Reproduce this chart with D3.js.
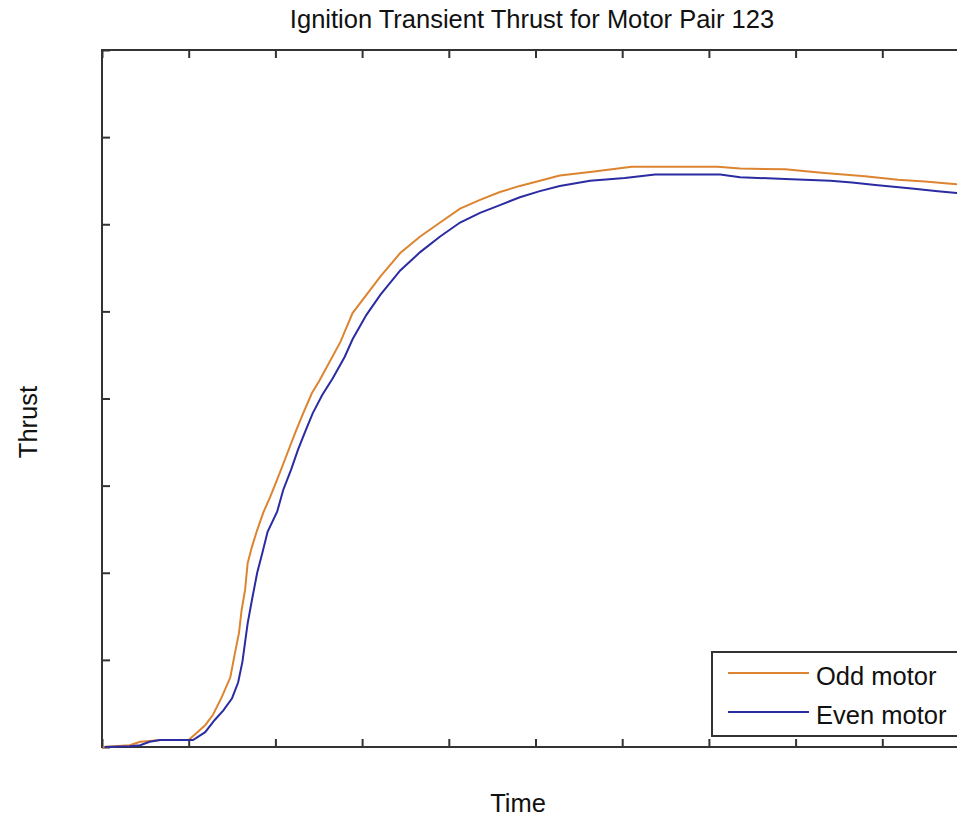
<!DOCTYPE html>
<html>
<head>
<meta charset="utf-8">
<script src="https://cdn.jsdelivr.net/npm/d3@7/dist/d3.min.js"></script>
<style>
  html, body { margin: 0; padding: 0; background: #fff; }
  svg { display: block; }
  text { font-family: "Liberation Sans", Arial, sans-serif; fill: #111; }
</style>
</head>
<body>
<svg id="chart" width="957" height="817"></svg>
<script>
// Time axis ticks (unlabelled) and thrust axis ticks (unlabelled)
const timeTicks = [0, 1, 2, 3, 4, 5, 6, 7, 8, 9, 10];
const thrustTicks = [0, 1, 2, 3, 4, 5, 6, 7, 8];

// Odd motor thrust trace
const oddTime = [0.01, 0.32, 0.44, 0.55, 0.67, 1.00, 1.19, 1.28, 1.38, 1.48, 1.53, 1.58, 1.61, 1.65, 1.68, 1.73, 1.79, 1.86, 1.94, 2.02, 2.11, 2.23, 2.32, 2.42, 2.51, 2.75, 2.89, 3.21, 3.44, 3.67, 3.90, 4.13, 4.36, 4.59, 4.82, 5.05, 5.28, 5.63, 6.11, 7.10, 7.36, 7.88, 8.30, 8.55, 8.80, 9.18, 9.49, 9.86, 10.0];
const oddThrust = [0.00, 0.02, 0.06, 0.07, 0.08, 0.08, 0.25, 0.37, 0.57, 0.80, 1.06, 1.31, 1.57, 1.80, 2.11, 2.30, 2.49, 2.69, 2.87, 3.07, 3.30, 3.61, 3.83, 4.06, 4.21, 4.65, 4.98, 5.40, 5.67, 5.86, 6.02, 6.18, 6.28, 6.37, 6.44, 6.50, 6.56, 6.60, 6.66, 6.66, 6.64, 6.63, 6.59, 6.57, 6.55, 6.51, 6.49, 6.46, 6.45];

// Even motor thrust trace
const evenTime = [0.03, 0.32, 0.44, 0.55, 0.67, 1.00, 1.05, 1.19, 1.30, 1.40, 1.50, 1.57, 1.62, 1.65, 1.68, 1.73, 1.79, 1.85, 1.91, 2.02, 2.09, 2.18, 2.26, 2.34, 2.43, 2.54, 2.66, 2.80, 2.89, 3.05, 3.21, 3.44, 3.67, 3.90, 4.13, 4.36, 4.59, 4.82, 5.05, 5.28, 5.63, 6.03, 6.38, 7.13, 7.36, 7.88, 8.40, 8.65, 8.92, 9.34, 9.64, 9.86, 10.0];
const evenThrust = [0.00, 0.01, 0.02, 0.06, 0.08, 0.08, 0.08, 0.17, 0.31, 0.42, 0.56, 0.74, 0.98, 1.20, 1.42, 1.69, 2.00, 2.23, 2.47, 2.70, 2.95, 3.18, 3.41, 3.61, 3.83, 4.04, 4.23, 4.48, 4.68, 4.96, 5.19, 5.47, 5.68, 5.86, 6.02, 6.13, 6.22, 6.31, 6.38, 6.44, 6.50, 6.53, 6.57, 6.57, 6.54, 6.52, 6.50, 6.48, 6.45, 6.41, 6.38, 6.36, 6.35];

const seriesNames = ["Odd motor", "Even motor"];
const seriesColors = ["#DC8430", "#2B2BA3"];

const svg = d3.select("#chart");
const plotLeft = 102, plotTop = 50, plotRight = 969, plotBottom = 747;

const x = d3.scaleLinear().domain([0, 10]).range([plotLeft, plotRight]);
const y = d3.scaleLinear().domain([0, 8]).range([plotBottom, plotTop]);

const axisColor = "#333";
const tickLen = 8;
const fontSize = 25.5;

// Axes with inward ticks, no labels
function styleAxis(g) {
  g.select(".domain").remove();
  g.selectAll(".tick line").attr("stroke", axisColor).attr("stroke-width", 2);
  g.selectAll(".tick text").remove();
}
svg.append("g").attr("transform", `translate(0,${plotBottom})`)
  .call(d3.axisBottom(x).tickValues(timeTicks).tickSize(-tickLen)).call(styleAxis);
svg.append("g").attr("transform", `translate(0,${plotTop})`)
  .call(d3.axisTop(x).tickValues(timeTicks).tickSize(-tickLen)).call(styleAxis);
svg.append("g").attr("transform", `translate(${plotLeft},0)`)
  .call(d3.axisLeft(y).tickValues(thrustTicks).tickSize(-tickLen)).call(styleAxis);

// Plot frame
svg.append("rect")
  .attr("x", plotLeft).attr("y", plotTop)
  .attr("width", plotRight - plotLeft).attr("height", plotBottom - plotTop)
  .attr("fill", "none").attr("stroke", axisColor).attr("stroke-width", 2);

// Traces
const line = d3.line().x(d => x(d[0])).y(d => y(d[1]));
const traces = [
  d3.zip(oddTime, oddThrust),
  d3.zip(evenTime, evenThrust)
];
traces.forEach((pts, i) => {
  svg.append("path")
    .datum(pts)
    .attr("d", line)
    .attr("fill", "none")
    .attr("stroke", seriesColors[i])
    .attr("stroke-width", 2);
});

// Titles
svg.append("text").attr("x", 532).attr("y", 28)
  .attr("text-anchor", "middle").attr("font-size", fontSize)
  .text("Ignition Transient Thrust for Motor Pair 123");
svg.append("text").attr("x", 518).attr("y", 812)
  .attr("text-anchor", "middle").attr("font-size", fontSize)
  .text("Time");
svg.append("text")
  .attr("transform", "translate(37,422) rotate(-90)")
  .attr("text-anchor", "middle").attr("font-size", fontSize)
  .text("Thrust");

// Legend
const legend = svg.append("g");
legend.append("rect")
  .attr("x", 712).attr("y", 652).attr("width", 260).attr("height", 84)
  .attr("fill", "#fff").attr("stroke", axisColor).attr("stroke-width", 2);
seriesNames.forEach((name, i) => {
  const ly = 673 + i * 39;
  legend.append("line")
    .attr("x1", 728).attr("x2", 809).attr("y1", ly).attr("y2", ly)
    .attr("stroke", seriesColors[i]).attr("stroke-width", 2);
  legend.append("text")
    .attr("x", 816).attr("y", ly + 12).attr("font-size", fontSize)
    .text(name);
});
</script>
</body>
</html>
